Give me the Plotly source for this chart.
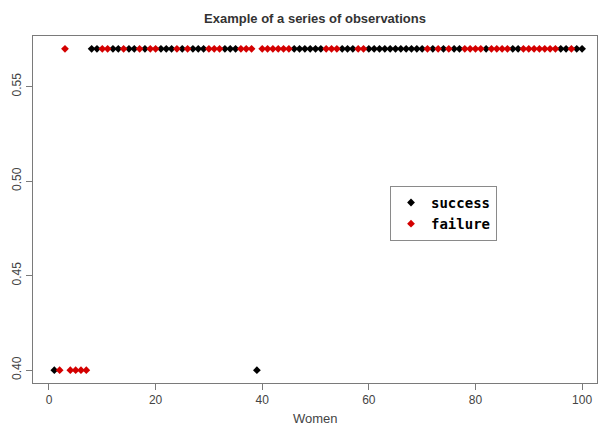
import plotly.graph_objects as go

# Observation index (women)
women = [1, 2, 3, 4, 5, 6, 7, 8, 9, 10,
         11, 12, 13, 14, 15, 16, 17, 18, 19, 20,
         21, 22, 23, 24, 25, 26, 27, 28, 29, 30,
         31, 32, 33, 34, 35, 36, 37, 38, 39, 40,
         41, 42, 43, 44, 45, 46, 47, 48, 49, 50,
         51, 52, 53, 54, 55, 56, 57, 58, 59, 60,
         61, 62, 63, 64, 65, 66, 67, 68, 69, 70,
         71, 72, 73, 74, 75, 76, 77, 78, 79, 80,
         81, 82, 83, 84, 85, 86, 87, 88, 89, 90,
         91, 92, 93, 94, 95, 96, 97, 98, 99, 100]

# Observed level for each woman
level = [0.40, 0.40, 0.57, 0.40, 0.40, 0.40, 0.40, 0.57, 0.57, 0.57,
         0.57, 0.57, 0.57, 0.57, 0.57, 0.57, 0.57, 0.57, 0.57, 0.57,
         0.57, 0.57, 0.57, 0.57, 0.57, 0.57, 0.57, 0.57, 0.57, 0.57,
         0.57, 0.57, 0.57, 0.57, 0.57, 0.57, 0.57, 0.57, 0.40, 0.57,
         0.57, 0.57, 0.57, 0.57, 0.57, 0.57, 0.57, 0.57, 0.57, 0.57,
         0.57, 0.57, 0.57, 0.57, 0.57, 0.57, 0.57, 0.57, 0.57, 0.57,
         0.57, 0.57, 0.57, 0.57, 0.57, 0.57, 0.57, 0.57, 0.57, 0.57,
         0.57, 0.57, 0.57, 0.57, 0.57, 0.57, 0.57, 0.57, 0.57, 0.57,
         0.57, 0.57, 0.57, 0.57, 0.57, 0.57, 0.57, 0.57, 0.57, 0.57,
         0.57, 0.57, 0.57, 0.57, 0.57, 0.57, 0.57, 0.57, 0.57, 0.57]

# Outcome: S = success, F = failure
outcome = ["S", "F", "F", "F", "F", "F", "F", "S", "S", "F",
           "F", "S", "S", "F", "S", "S", "F", "S", "F", "F",
           "S", "S", "S", "F", "S", "F", "S", "S", "S", "F",
           "F", "F", "S", "S", "S", "F", "F", "F", "S", "F",
           "F", "F", "F", "F", "F", "S", "S", "S", "S", "S",
           "S", "F", "F", "F", "S", "S", "S", "F", "F", "S",
           "S", "S", "S", "S", "S", "S", "S", "S", "S", "S",
           "F", "S", "F", "S", "F", "S", "S", "F", "F", "F",
           "F", "S", "F", "F", "F", "F", "S", "S", "F", "F",
           "F", "F", "F", "F", "F", "S", "S", "F", "S", "S"]

series_names = ["success", "failure"]
series_codes = ["S", "F"]
series_colors = ["#000000", "#d40000"]

x_ticks = [0, 20, 40, 60, 80, 100]
y_ticks = [0.40, 0.45, 0.50, 0.55]
y_tick_text = ["0.40", "0.45", "0.50", "0.55"]

fig = go.Figure()
for name, code, color in zip(series_names, series_codes, series_colors):
    xs = [w for w, o in zip(women, outcome) if o == code]
    ys = [l for l, o in zip(level, outcome) if o == code]
    fig.add_trace(go.Scatter(
        x=xs, y=ys, mode="markers", name=name,
        marker=dict(symbol="diamond", size=6, color=color, line=dict(width=0)),
    ))

axis_common = dict(
    showgrid=False, zeroline=False, showline=True, mirror=True,
    linecolor="#7a7a7a", linewidth=1, ticks="outside", ticklen=6,
    tickcolor="#7a7a7a", tickfont=dict(family="Liberation Sans, Arial", size=12, color="#444444"),
)

fig.update_layout(
    width=603, height=426,
    margin=dict(l=33, r=6, t=36, b=43),
    paper_bgcolor="white", plot_bgcolor="white",
    title=dict(text="<b>Example of a series of observations</b>",
               x=0.5, xref="paper", xanchor="center",
               y=1 - 18 / 426, yref="container", yanchor="middle",
               font=dict(family="Liberation Sans, Arial", size=13, color="#333333")),
    xaxis=dict(range=[-3.0, 102.8], tickvals=x_ticks, **axis_common),
    yaxis=dict(range=[0.3932, 0.5768], tickvals=y_ticks, ticktext=y_tick_text,
               tickangle=-90, **axis_common),
    showlegend=True,
    legend=dict(x=0.633, y=0.568, xanchor="left", yanchor="top",
                bgcolor="white", bordercolor="#8a8a8a", borderwidth=1,
                font=dict(family="DejaVu Sans Mono", size=14, color="#000000", weight="bold"),
                itemwidth=30, tracegroupgap=0),
    annotations=[dict(text="Women", xref="paper", yref="paper", x=0.5, y=0,
                      yshift=-35, showarrow=False, yanchor="middle",
                      font=dict(family="Liberation Sans, Arial", size=13, color="#444444"))],
)

fig.write_html("out.html")
